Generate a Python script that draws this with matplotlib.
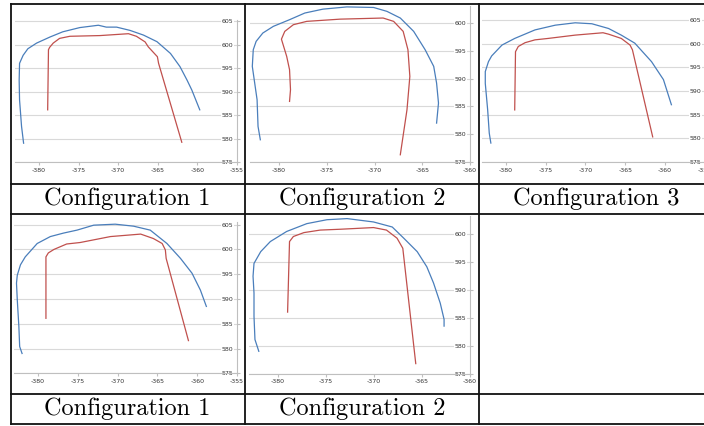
import matplotlib
matplotlib.use("Agg")
import matplotlib.pyplot as plt
from matplotlib.lines import Line2D

W, H = 704, 426

# ---- data (x, y pairs per curve) ----
# row 1, Configuration 1
outer1_x = [-381.94, -382.2, -382.45, -382.5, -382.45, -382.0, -381.4, -380.3, -378.6, -377.0,
            -374.85, -372.5, -371.5, -370.2, -368.5, -366.8, -365.1, -363.4, -362.2, -361.3,
            -360.7, -359.7]
outer1_y = [579.0, 582.6, 588.2, 592.4, 596.0, 597.7, 599.1, 600.3, 601.6, 602.7,
            603.6, 604.1, 603.7, 603.7, 603.0, 602.0, 600.6, 598.1, 595.3, 592.4,
            590.3, 586.1]
inner1_x = [-378.9, -378.8, -378.65, -378.2, -377.4, -376.1, -372.3, -368.7, -367.7, -366.6,
            -366.2, -365.05, -364.9, -361.97]
inner1_y = [586.1, 598.9, 599.4, 600.3, 601.3, 601.75, 601.9, 602.3, 601.75, 600.55,
            599.5, 597.4, 596.0, 579.2]

# row 1, Configuration 2
outer2_x = [-381.96, -382.2, -382.3, -382.55, -382.8, -382.7, -382.4, -381.7, -380.6, -378.9,
            -377.3, -375.4, -372.9, -370.1, -368.7, -367.3, -365.9, -364.7, -363.8, -363.5,
            -363.3, -363.5]
outer2_y = [579.0, 581.4, 586.2, 589.2, 592.2, 595.2, 596.7, 598.2, 599.4, 600.6,
            601.8, 602.5, 602.9, 602.8, 602.1, 600.9, 598.5, 595.2, 592.2, 589.2,
            585.6, 582.0]
inner2_x = [-378.9, -378.8, -378.9, -379.2, -379.75, -379.4, -378.5, -377.1, -373.6, -369.1,
            -368.0, -367.0, -366.5, -366.3, -366.6, -367.3]
inner2_y = [585.9, 588.0, 591.6, 594.0, 597.1, 598.5, 599.7, 600.3, 600.7, 600.9,
            600.3, 598.5, 595.2, 590.4, 584.4, 576.3]

# row 1, Configuration 3
outer3_x = [-381.9, -382.1, -382.3, -382.6, -382.6, -382.2, -381.8, -380.5, -378.9, -376.35,
            -373.8, -371.3, -369.2, -367.1, -365.5, -363.8, -361.7, -360.2, -359.2]
outer3_y = [579.0, 581.1, 586.0, 591.6, 594.1, 596.2, 597.4, 599.7, 601.1, 602.9,
            603.9, 604.4, 604.2, 603.2, 601.8, 600.1, 596.2, 592.4, 587.1]
inner3_x = [-378.9, -378.8, -378.45, -377.6, -376.35, -374.7, -371.3, -367.8, -367.1, -365.5,
            -364.4, -364.1, -361.55]
inner3_y = [586.0, 598.3, 599.4, 600.2, 600.8, 601.1, 601.8, 602.3, 602.0, 601.1,
            599.7, 598.7, 580.3]

# row 2, Configuration 1
outer4_x = [-382.0, -382.3, -382.4, -382.6, -382.7, -382.6, -382.2, -381.6, -380.1, -378.45,
            -376.8, -375.1, -373.0, -370.3, -368.0, -365.9, -363.8, -362.1, -360.65, -359.6,
            -358.85]
outer4_y = [579.0, 580.4, 584.4, 589.8, 593.2, 594.8, 596.9, 598.5, 601.2, 602.6,
            603.3, 603.9, 604.9, 605.1, 604.7, 603.9, 601.2, 598.2, 595.2, 591.8,
            588.5]
inner4_x = [-379.0, -379.0, -378.7, -378.0, -376.4, -374.7, -370.9, -367.1, -365.5, -364.4,
            -364.0, -363.9, -361.1]
inner4_y = [586.1, 598.5, 599.3, 600.0, 601.1, 601.4, 602.6, 603.1, 602.2, 601.2,
            599.9, 598.2, 581.6]

# row 2, Configuration 2
outer5_x = [-382.0, -382.4, -382.5, -382.5, -382.6, -382.5, -381.8, -380.8, -379.1, -377.0,
            -374.9, -372.8, -370.05, -368.1, -366.9, -365.5, -364.5, -363.8, -363.1, -362.7,
            -362.7]
outer5_y = [579.0, 581.1, 585.25, 589.4, 592.4, 594.7, 596.8, 598.6, 600.4, 601.8,
            602.5, 602.7, 602.1, 601.2, 599.2, 596.8, 594.1, 591.2, 587.6, 584.7,
            583.5]
inner5_x = [-379.0, -378.8, -378.4, -377.3, -375.6, -373.5, -370.05, -368.7, -367.6, -367.0,
            -365.65]
inner5_y = [586.0, 598.6, 599.5, 600.2, 600.65, 600.8, 601.1, 600.65, 599.2, 597.4,
            576.8]

captions = ["Configuration 1", "Configuration 2", "Configuration 3",
            "Configuration 1", "Configuration 2"]
xticks_wide = [-380, -375, -370, -365, -360, -355]
xticks_narrow = [-380, -375, -370, -365, -360]
yticks = [575, 580, 585, 590, 595, 600, 605]

BLUE = "#4a7ebb"
RED = "#c0504d"
GRID = "#d9d9d9"
AXIS = "#bfbfbf"

# panel layout in pixels: left, right, top, bottom, xlim, ylim
panels = [
    (15.2, 237.0, 19.6, 162.0, (-383, -355), (575, 605.3), xticks_wide),
    (250.4, 470.0, 5.8, 162.0, (-383, -360), (575, 603.1), xticks_narrow),
    (482.1, 704.8, 17.6, 162.0, (-383, -355), (575, 605.5), xticks_wide),
    (14.1, 237.0, 222.2, 373.3, (-383, -355), (575, 605.5), xticks_wide),
    (249.2, 470.0, 215.8, 373.7, (-383, -360), (575, 603.2), xticks_narrow),
]
curves = [
    (outer1_x, outer1_y, inner1_x, inner1_y),
    (outer2_x, outer2_y, inner2_x, inner2_y),
    (outer3_x, outer3_y, inner3_x, inner3_y),
    (outer4_x, outer4_y, inner4_x, inner4_y),
    (outer5_x, outer5_y, inner5_x, inner5_y),
]


def px_axes(fig, left, right, top, bottom):
    return fig.add_axes([left / W, 1 - bottom / H, (right - left) / W, (bottom - top) / H])


fig = plt.figure(figsize=(W / 100, H / 100), dpi=100)
fig.patch.set_facecolor("white")

for (l, r, t, b, xlim, ylim, xt), (ox, oy, ix, iy) in zip(panels, curves):
    ax = px_axes(fig, l, r, t, b)
    ax.plot(ox, oy, color=BLUE, lw=0.9, zorder=3)
    ax.plot(ix, iy, color=RED, lw=0.9, zorder=3)
    ax.set_xlim(*xlim)
    ax.set_ylim(*ylim)
    ax.set_xticks(xt)
    ax.set_xticklabels([str(v) for v in xt])
    ax.set_yticks([v for v in yticks if v <= ylim[1]])
    ax.grid(axis="y", color=GRID, lw=0.8, zorder=0)
    ax.set_axisbelow(True)
    for side in ("left", "top"):
        ax.spines[side].set_visible(False)
    for side in ("right", "bottom"):
        ax.spines[side].set_color(AXIS)
        ax.spines[side].set_linewidth(0.8)
    ax.yaxis.tick_right()
    ax.tick_params(axis="y", direction="out", length=2, color=AXIS, pad=-13,
                   labelsize=4.5, labelcolor="#333333")
    ax.tick_params(axis="x", direction="out", length=2, color=AXIS, pad=2,
                   labelsize=4.5, labelcolor="#333333")
    for lbl in ax.get_yticklabels():
        lbl.set_bbox(dict(facecolor="white", edgecolor="none", pad=0.3))

# table rules
def hline(y, x0, x1):
    fig.add_artist(Line2D([x0 / W, x1 / W], [1 - y / H, 1 - y / H], color="#111111", lw=1.3))


def vline(x, y0, y1):
    fig.add_artist(Line2D([x / W, x / W], [1 - y0 / H, 1 - y1 / H], color="#111111", lw=1.3))


for y in (4, 184, 214, 394, 424):
    hline(y, 11, 704)
for x in (11, 245, 479):
    vline(x, 4, 424)

caption_pos = [(127, 205), (362, 205), (596, 205), (127, 415), (362, 415)]
for (cx, cy), text in zip(caption_pos, captions):
    fig.text(cx / W, 1 - cy / H, text, ha="center", va="baseline",
             fontsize=17.5, fontfamily="cmr10", color="black")

fig.savefig("out.png", dpi=100)
